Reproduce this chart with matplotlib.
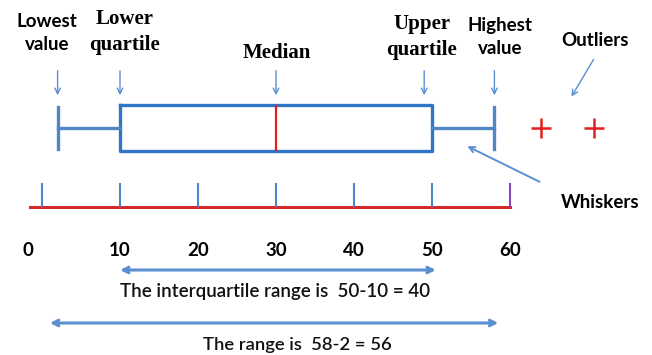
import matplotlib
matplotlib.use("Agg")
import matplotlib.pyplot as plt

# ------------------------------------------------------
# Data
# ------------------------------------------------------

lowest = 2
lower_q = 10
median = 30
upper_q = 50
highest = 58
outliers = [64, 70.8]

tick_values = [0, 10, 20, 30, 40, 50, 60]
tick_labels = ["0", "10", "20", "30", "40", "50", "60"]

iqr_text = "The interquartile range is  50-10 = 40"
range_text = "The range is  58-2 = 56"

# ------------------------------------------------------
# Styles
# ------------------------------------------------------

box_blue = "#2f77c6"
whisk_blue = "#4f86c6"
arrow_blue = "#5b8fd0"
red = "#e41e1e"
sans = ["Lato", "DejaVu Sans"]
serif = ["Liberation Serif", "DejaVu Serif"]

fig = plt.figure(figsize=(6.52, 3.55), dpi=100)
ax = fig.add_axes([0, 0, 1, 1])
ax.set_xlim(-5.385, 78.205)
ax.set_ylim(355, 0)
ax.axis("off")

# ------------------------------------------------------
# Box plot
# ------------------------------------------------------

stats = [dict(med=median, q1=lower_q, q3=upper_q,
              whislo=lowest, whishi=highest, fliers=outliers)]
ax.bxp(stats, positions=[128], widths=[46], capwidths=[42],
       orientation="horizontal", manage_ticks=False,
       boxprops=dict(color=box_blue, lw=2.4),
       medianprops=dict(color=red, lw=1.6),
       whiskerprops=dict(color=whisk_blue, lw=2.4),
       capprops=dict(color=whisk_blue, lw=2.4),
       flierprops=dict(marker="+", markeredgecolor=red,
                       markersize=14, markeredgewidth=1.8))

# ------------------------------------------------------
# Number line
# ------------------------------------------------------

ax.plot([tick_values[0] - 1.6, tick_values[-1]], [207, 207],
        color="#d42a2a", lw=2.2)
for i, v in enumerate(tick_values):
    c = "#8a45c0" if i == len(tick_values) - 1 else "#4a86c8"
    ax.plot([v, v], [184, 206], color=c, lw=1.5)
    ax.text(v - 1.8 if v == 0 else v, 250, tick_labels[i],
            ha="center", va="center",
            fontsize=13.5, fontweight="bold", family=sans)

# ------------------------------------------------------
# Labels with small arrows
# ------------------------------------------------------

labels = [
    (lowest, 0.6, 33, "Lowest\nvalue", sans, 13.5),
    (lower_q, 10.6, 32, "Lower\nquartile", serif, 15),
    (median, 30.1, 53, "Median", serif, 15),
    (upper_q - 1, 48.7, 37, "Upper\nquartile", serif, 15),
    (highest, 58.7, 37, "Highest\nvalue", sans, 13.5),
]
for v, tx, ty, txt, fam, fs in labels:
    ax.text(tx, ty, txt, ha="center", va="center",
            fontsize=fs, fontweight="bold", family=fam, linespacing=1.45)
    ax.annotate("", xy=(v, 98), xytext=(v, 68),
                arrowprops=dict(arrowstyle="->", color=arrow_blue, lw=1.0))

ax.text(70.9, 40, "Outliers", ha="center", va="center",
        fontsize=13.5, fontweight="bold", family=sans)
ax.annotate("", xy=(67.7, 99), xytext=(70.9, 57),
            arrowprops=dict(arrowstyle="->", color=arrow_blue, lw=1.0))

ax.text(71.5, 202, "Whiskers", ha="center", va="center",
        fontsize=13.5, fontweight="bold", family=sans)
ax.annotate("", xy=(54.2, 145), xytext=(64.1, 183),
            arrowprops=dict(arrowstyle="->", color=arrow_blue, lw=1.4))

# ------------------------------------------------------
# Range arrows
# ------------------------------------------------------

ax.annotate("", xy=(lower_q, 270), xytext=(upper_q + 0.5, 270),
            arrowprops=dict(arrowstyle="<->", color=arrow_blue, lw=2.2,
                            shrinkA=0, shrinkB=0))
ax.text(29.9, 292, iqr_text, ha="center", va="center",
        fontsize=13.5, fontweight="semibold", family=sans, color="#111111")

ax.annotate("", xy=(lowest - 1, 323), xytext=(highest + 0.5, 323),
            arrowprops=dict(arrowstyle="<->", color=arrow_blue, lw=2.2,
                            shrinkA=0, shrinkB=0))
ax.text(32.7, 345, range_text, ha="center", va="center",
        fontsize=13.3, fontweight="semibold", family=sans, color="#111111")

fig.savefig("out.png", dpi=100)
